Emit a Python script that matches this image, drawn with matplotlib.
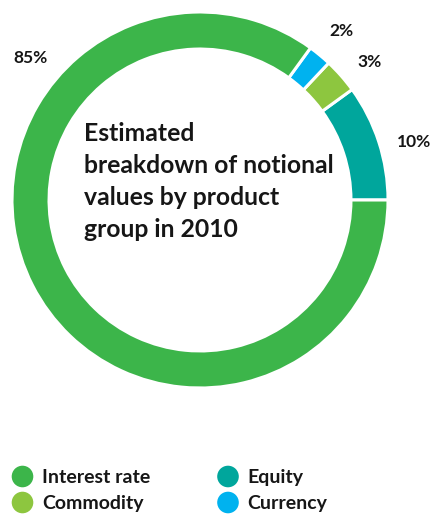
import numpy as np
import matplotlib
matplotlib.use("Agg")
import matplotlib.pyplot as plt
from matplotlib.patches import Circle

# Product groups, in drawing order (counter-clockwise from 3 o'clock)
groups = ["Equity", "Commodity", "Currency", "Interest rate"]
shares = [10, 3, 2, 85]
pct_labels = ["10%", "3%", "2%", "85%"]
colors = ["#00A69C", "#8DC63F", "#00B2EF", "#3CB54A"]

legend_order = ["Interest rate", "Equity", "Commodity", "Currency"]
title_lines = ["Estimated", "breakdown of notional", "values by product", "group in 2010"]

W, H = 435, 519
fig = plt.figure(figsize=(W / 100, H / 100), dpi=100)
fig.patch.set_facecolor("white")

font = "Lato"
weight = 700
ink = "#161616"

# Donut axes: centre at (200, 200) px, outer radius 188 px
cx, cy, R = 200, 200, 188
ax = fig.add_axes([(cx - R) / W, (H - cy - R) / H, 2 * R / W, 2 * R / H])
ax.pie(shares, colors=colors, startangle=0, counterclock=True, radius=1.0,
       wedgeprops=dict(width=0.197, edgecolor="white", linewidth=2.2))
ax.set_xlim(-1, 1)
ax.set_ylim(-1, 1)
ax.set_aspect("equal")
ax.axis("off")

# Percentage labels placed around the ring (angle in degrees, radius)
label_pos = {"10%": (15.2, 1.179), "3%": (39.1, 1.165), "2%": (50.1, 1.169), "85%": (140.1, 1.178)}
for lab in pct_labels:
    ang, r = label_pos[lab]
    a = np.deg2rad(ang)
    ax.text(r * np.cos(a), r * np.sin(a), lab, ha="center", va="center",
            fontsize=12.5, fontfamily=font, fontweight=weight, color=ink,
            clip_on=False)

# Centre title
for i, line in enumerate(title_lines):
    fig.text(84 / W, 1 - (141 + 32 * i) / H, line, ha="left", va="baseline",
             fontsize=17.8, fontfamily=font, fontweight=weight, color=ink)

# Legend: two columns of round markers
col_x = [22.5, 228]
row_y = [476.5, 502.5]
for i, name in enumerate(legend_order):
    col, row = i % 2, i // 2
    x, y = col_x[col], row_y[row]
    c = colors[groups.index(name)]
    fig.patches.append(Circle((x, H - y), 10.8, transform=None,
                              facecolor=c, edgecolor="none"))
    fig.text((x + 19.5) / W, 1 - (y + 1) / H, name, ha="left", va="center",
             fontsize=14, fontfamily=font, fontweight=weight, color=ink)

fig.savefig("out.png", dpi=100, facecolor="white")
